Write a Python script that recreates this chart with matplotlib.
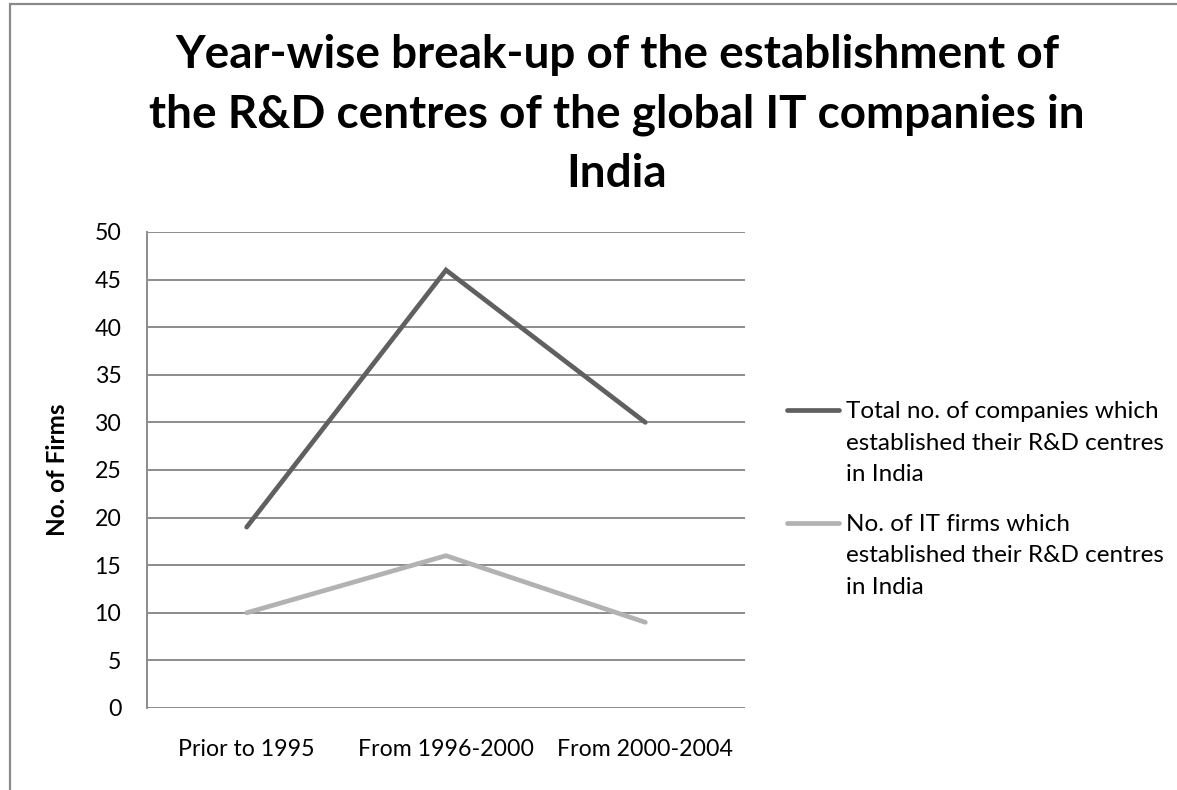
import matplotlib
matplotlib.use("Agg")
import matplotlib.pyplot as plt
from matplotlib.lines import Line2D
from matplotlib.patches import Rectangle

periods = ["Prior to 1995", "From 1996-2000", "From 2000-2004"]
total_companies = [19, 46, 30]
it_firms = [10, 16, 9]
series_labels = [
    ["Total no. of companies which", "established their R&D centres", "in India"],
    ["No. of IT firms which", "established their R&D centres", "in India"],
]
title_lines = [
    "Year-wise break-up of the establishment of",
    "the R&D centres of the global IT companies in",
    "India",
]

DARK = "#606060"
LIGHT = "#b2b2b2"
GRID = "#8c8c8c"

plt.rcParams["font.family"] = ["Lato", "DejaVu Sans"]

W, H = 1177, 790
fig = plt.figure(figsize=(W / 100, H / 100), dpi=100)
fig.patch.set_facecolor("white")

# chart frame (runs off the right and bottom edges)
fig.add_artist(Rectangle((9.5 / W, -0.05), 1.2, 1 - 3.5 / H + 0.05,
                         transform=fig.transFigure, fill=False,
                         edgecolor="#8a8a8a", linewidth=1.6))

ax = fig.add_axes([147 / W, 1 - 708 / H, (745 - 147) / W, (708 - 232) / H])
x = range(len(periods))
ax.plot(x, total_companies, color=DARK, linewidth=3.4, solid_capstyle="round",
        solid_joinstyle="miter", zorder=3)
ax.plot(x, it_firms, color=LIGHT, linewidth=3.4, solid_capstyle="round",
        solid_joinstyle="miter", zorder=3)

ax.set_xlim(-0.5, 2.5)
ax.set_ylim(0, 50)
ax.set_yticks(range(0, 51, 5))
ax.set_xticks(list(x))
ax.set_xticklabels(periods)
ax.tick_params(axis="both", length=0, labelsize=16.7, colors="black")
ax.tick_params(axis="y", pad=18.5)
ax.tick_params(axis="x", pad=22)
ax.grid(axis="y", color=GRID, linewidth=1.4)
ax.set_axisbelow(True)
for side in ["top", "right", "bottom"]:
    ax.spines[side].set_visible(False)
ax.spines["left"].set_color(GRID)
ax.spines["left"].set_linewidth(1.4)
ax.set_ylabel("No. of Firms", fontsize=17.5, fontweight="bold")
ax.yaxis.set_label_coords(-0.13, 0.5)

# title, one line at a time, centred over the whole chart frame
for i, line in enumerate(title_lines):
    fig.text(617 / W, 1 - (68 + 59.5 * i) / H, line, ha="center", va="baseline",
             fontsize=33, fontweight="bold")

# legend keys drawn beside the wrapped labels
for lines, color, key_y, base_y in zip(series_labels, [DARK, LIGHT],
                                       [410, 523], [418, 531]):
    fig.add_artist(Line2D([787 / W, 839 / W], [1 - key_y / H, 1 - key_y / H],
                          transform=fig.transFigure, color=color,
                          linewidth=3.4, solid_capstyle="round"))
    for j, text in enumerate(lines):
        fig.text(846 / W, 1 - (base_y + 31.5 * j) / H, text, ha="left",
                 va="baseline", fontsize=17.5)

fig.savefig("out.png", dpi=100)
